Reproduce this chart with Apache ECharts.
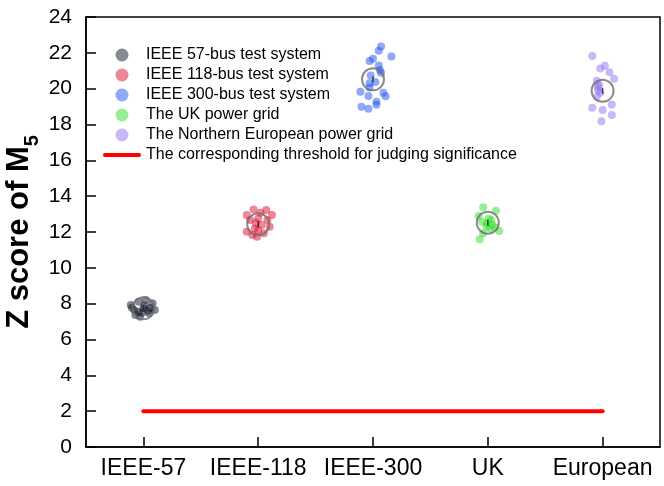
<!DOCTYPE html>
<html>
<head>
<meta charset="utf-8">
<script src="https://cdn.jsdelivr.net/npm/echarts@6/dist/echarts.min.js"></script>
<style>
  html, body { margin: 0; padding: 0; background: #fff; }
  #chart { width: 664px; height: 486px; }
</style>
</head>
<body>
<div id="chart"></div>
<script>
// Categories along x; each sits at integer position 1..5 on a value axis so
// points can be spread sideways around their category.
const categories = ["IEEE-57", "IEEE-118", "IEEE-300", "UK", "European"]
const seriesNames = [
  "IEEE 57-bus test system",
  "IEEE 118-bus test system",
  "IEEE 300-bus test system",
  "The UK power grid",
  "The Northern European power grid",
]
const thresholdName = "The corresponding threshold for judging significance"
const yTicks = [0, 24, 2] // min, max, interval

// [x, z-score]
const ieee57Points = [
  [0.89, 7.92], [0.92, 7.65], [0.96, 8.11], [1.02, 8.2], [1.08, 8.02],
  [1.1, 7.65], [1.05, 7.46], [0.97, 7.27], [0.93, 7.37], [1.0, 7.74],
  [0.96, 7.55], [1.06, 7.77], [0.9, 7.77], [1.01, 7.9], [0.99, 7.5],
  [1.04, 7.6],
]
const ieee118Points = [
  [2.07, 13.23], [2.12, 12.95], [1.96, 13.26], [1.9, 12.95], [1.9, 12.01],
  [1.95, 11.83], [1.99, 11.74], [2.05, 11.93], [2.1, 12.29], [2.08, 12.67],
  [2.02, 13.07], [1.93, 12.67], [1.97, 12.2], [2.03, 12.39], [2.0, 12.76],
  [2.0, 12.1], [1.98, 12.5],
]
const ieee300Points = [
  [3.07, 22.36], [3.05, 22.11], [3.16, 21.8], [3.0, 21.67], [2.97, 21.54],
  [3.05, 21.3], [3.06, 21.04], [3.07, 20.89], [2.98, 20.74], [3.02, 20.37],
  [2.97, 20.3], [2.97, 20.07], [2.89, 19.83], [2.96, 19.59], [3.09, 19.77],
  [3.11, 19.57], [3.03, 19.27], [3.03, 19.1], [2.9, 18.99], [2.96, 18.88],
]
const ukPoints = [
  [3.96, 13.38], [4.07, 13.19], [3.92, 12.89], [4.01, 12.75], [4.03, 12.67],
  [3.95, 12.57], [3.99, 12.48], [4.04, 12.4], [3.99, 12.29], [4.06, 12.26],
  [4.02, 12.2], [4.1, 12.05], [3.96, 11.93], [3.93, 11.59],
]
const europeanPoints = [
  [4.91, 21.82], [4.98, 21.13], [5.02, 21.28], [5.06, 20.91], [5.1, 20.55],
  [4.95, 20.44], [4.97, 20.2], [4.96, 19.92], [4.98, 19.77], [4.95, 19.55],
  [4.91, 18.93], [5.0, 18.81], [5.08, 19.12], [5.08, 18.53], [4.99, 18.18],
  [4.96, 20.11],
]
// group means (hollow gray circles) and the significance threshold
const groupMeans = [7.74, 12.43, 20.52, 12.52, 19.88]
const thresholdValue = 2

const FONT = "Liberation Sans, Arial, sans-serif"
const COLORS = ["#0d1529", "#df0b2b", "#2151f1", "#31dd2b", "#9171f1"]
const pointSets = [ieee57Points, ieee118Points, ieee300Points, ukPoints, europeanPoints]
const positions = categories.map((_, i) => i + 1)

const scatterSeries = pointSets.map((pts, i) => ({
  name: seriesNames[i],
  type: "scatter",
  data: pts,
  symbol: "circle",
  symbolSize: 8,
  itemStyle: {color: COLORS[i], opacity: 0.5},
  z: 2,
}))

const chart = echarts.init(document.getElementById("chart"))
chart.setOption({
  animation: false,
  textStyle: {fontFamily: FONT},
  grid: {
    left: 86, right: 4, top: 17, bottom: 39,
    outerBoundsMode: "none",
    show: true, borderColor: "#000", borderWidth: 1.5,
  },
  legend: {
    left: 98,
    top: 42,
    orient: "vertical",
    itemWidth: 38,
    itemHeight: 13,
    itemGap: 4,
    textStyle: {fontSize: 16, color: "#000", fontFamily: FONT},
    data: seriesNames.map((name) => ({name, icon: "circle"})).concat([
      {name: thresholdName, icon: "path://M2,0L36,0A2,2,0,0,1,36,4L2,4A2,2,0,0,1,2,0Z", itemStyle: {color: "#ff0000"}},
    ]),
  },
  xAxis: {
    type: "value",
    min: 0.5,
    max: 5.5,
    splitLine: {show: false},
    axisLine: {show: true, onZero: false, lineStyle: {color: "#000", width: 1.5}},
    axisTick: {show: true, inside: true, length: 10, customValues: positions, lineStyle: {color: "#000", width: 1.5}},
    axisLabel: {
      customValues: positions,
      fontSize: 23,
      color: "#000",
      margin: 10,
      fontFamily: FONT,
      formatter: (v) => categories[Math.round(v) - 1] ?? "",
    },
  },
  yAxis: {
    type: "value",
    min: yTicks[0],
    max: yTicks[1],
    interval: yTicks[2],
    splitLine: {show: false},
    axisLine: {show: true, lineStyle: {color: "#000", width: 1.5}},
    axisTick: {show: true, inside: true, length: 10, lineStyle: {color: "#000", width: 1.5}},
    axisLabel: {fontSize: 21, color: "#000", margin: 14, fontFamily: FONT},
    name: "{a|Z score of M}{s|5}",
    nameLocation: "middle",
    nameMoveOverlap: false,
    nameGap: 44,
    nameTextStyle: {
      rich: {
        a: {fontSize: 31, fontWeight: "bold", color: "#000", fontFamily: FONT, lineHeight: 38, verticalAlign: "top"},
        s: {fontSize: 20, fontWeight: "bold", color: "#000", fontFamily: FONT, lineHeight: 20, verticalAlign: "bottom"},
      },
    },
  },
  series: [
    ...scatterSeries,
    {
      name: thresholdName,
      type: "line",
      data: [[positions[0], thresholdValue], [positions[positions.length - 1], thresholdValue]],
      symbol: "none",
      lineStyle: {color: "#ff0000", width: 4, cap: "round"},
      itemStyle: {color: "#ff0000"},
      z: 3,
    },
    {
      name: "mean",
      type: "scatter",
      data: groupMeans.map((m, i) => [positions[i], m]),
      symbol: "circle",
      symbolSize: 22,
      itemStyle: {color: "rgba(0,0,0,0)", borderColor: "#6e6e6e", borderWidth: 2},
      z: 4,
    },
    {
      name: "meanBar",
      type: "scatter",
      data: groupMeans.map((m, i) => [positions[i], m]),
      symbol: "rect",
      symbolSize: [1.5, 6],
      itemStyle: {color: "#222"},
      z: 5,
    },
  ],
})
</script>
</body>
</html>
